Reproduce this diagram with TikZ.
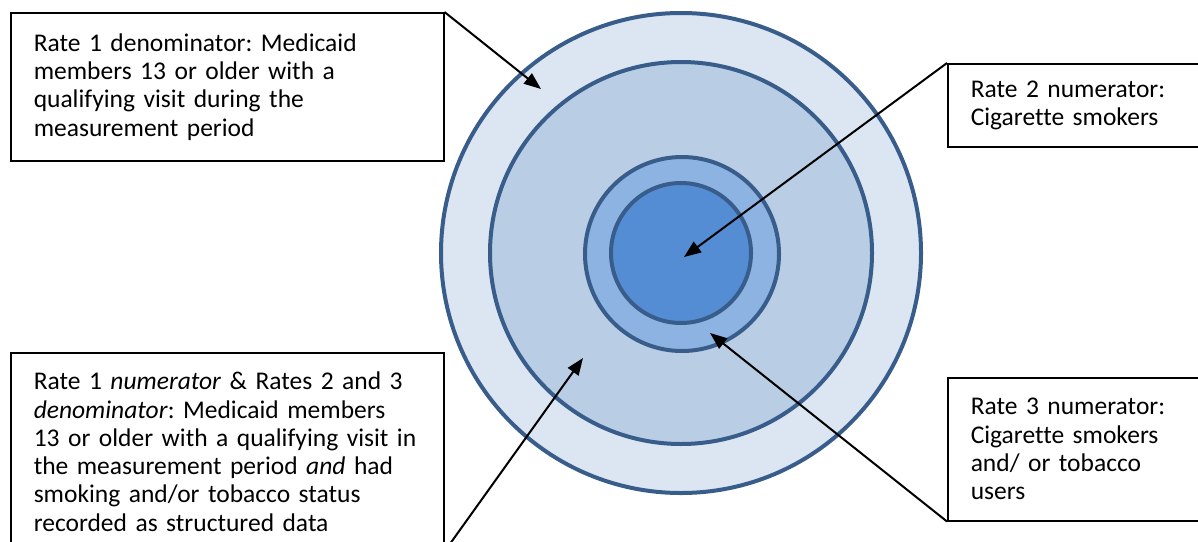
\documentclass[tikz,border=0pt]{standalone}
\usepackage{fontspec}
\setmainfont{Carlito}[Ligatures=NoCommon]
\usetikzlibrary{arrows.meta}
\definecolor{ringline}{HTML}{385D8A}
\definecolor{ringA}{HTML}{DCE6F2}
\definecolor{ringB}{HTML}{B9CDE5}
\definecolor{ringC}{HTML}{8DB3E2}
\definecolor{ringD}{HTML}{548DD4}
\frenchspacing
\begin{document}
\begin{tikzpicture}[
     x=1pt,y=-1pt,
     ring/.style={draw=ringline,line width=4pt},
     note/.style={draw,line width=1.5pt,anchor=north west,align=left,
       inner xsep=23pt,inner ysep=0pt,font=\fontsize{25.5}{28.3}\selectfont},
     pointer/.style={line width=2pt,-{Triangle[length=17pt,width=13pt]}}
   ]
   \path[use as bounding box] (0,0) rectangle (1198,541);
   % Rings.
   \filldraw[ring,fill=ringA] (681,253) circle[radius=240pt];
   \filldraw[ring,fill=ringB] (681,253) circle[radius=191pt];
   \filldraw[ring,fill=ringC] (682,254) circle[radius=97pt];
   \filldraw[ring,fill=ringD] (681,253) circle[radius=70pt];
   % Notes.
   \node[note,text width=387pt,minimum height=148pt] (den1) at (10,12)
     {Rate 1 denominator: Medicaid\\ members 13 or older with a\\ qualifying visit during the\\ measurement period};
   \node[note,text width=209pt,minimum height=83pt] (num2) at (947,63)
     {Rate 2 numerator:\\ Cigarette smokers};
   \node[note,text width=209pt,minimum height=143pt] (num3) at (947,377)
     {Rate 3 numerator:\\ Cigarette smokers\\ and/ or tobacco\\ users};
   \node[note,text width=387pt,minimum height=198pt] (num1) at (10,352)
     {Rate 1 \textit{numerator} \& Rates 2 and 3\\ \textit{denominator}: Medicaid members\\ 13 or older with a qualifying visit in\\ the measurement period \textit{and} had\\ smoking and/or tobacco status\\ recorded as structured data};
   % Pointers.
   \coordinate (tipA) at (541,89);
   \coordinate (tipB) at (684,257);
   \coordinate (tipC) at (710,333);
   \coordinate (tipD) at (583,358);
   \draw[pointer] (den1.north east) -- (tipA);
   \draw[pointer] (num2.north west) -- (tipB);
   \draw[pointer] (num3.south west) -- (tipC);
   \draw[pointer] (num1.south east) -- (tipD);
 \end{tikzpicture}
\end{document}
